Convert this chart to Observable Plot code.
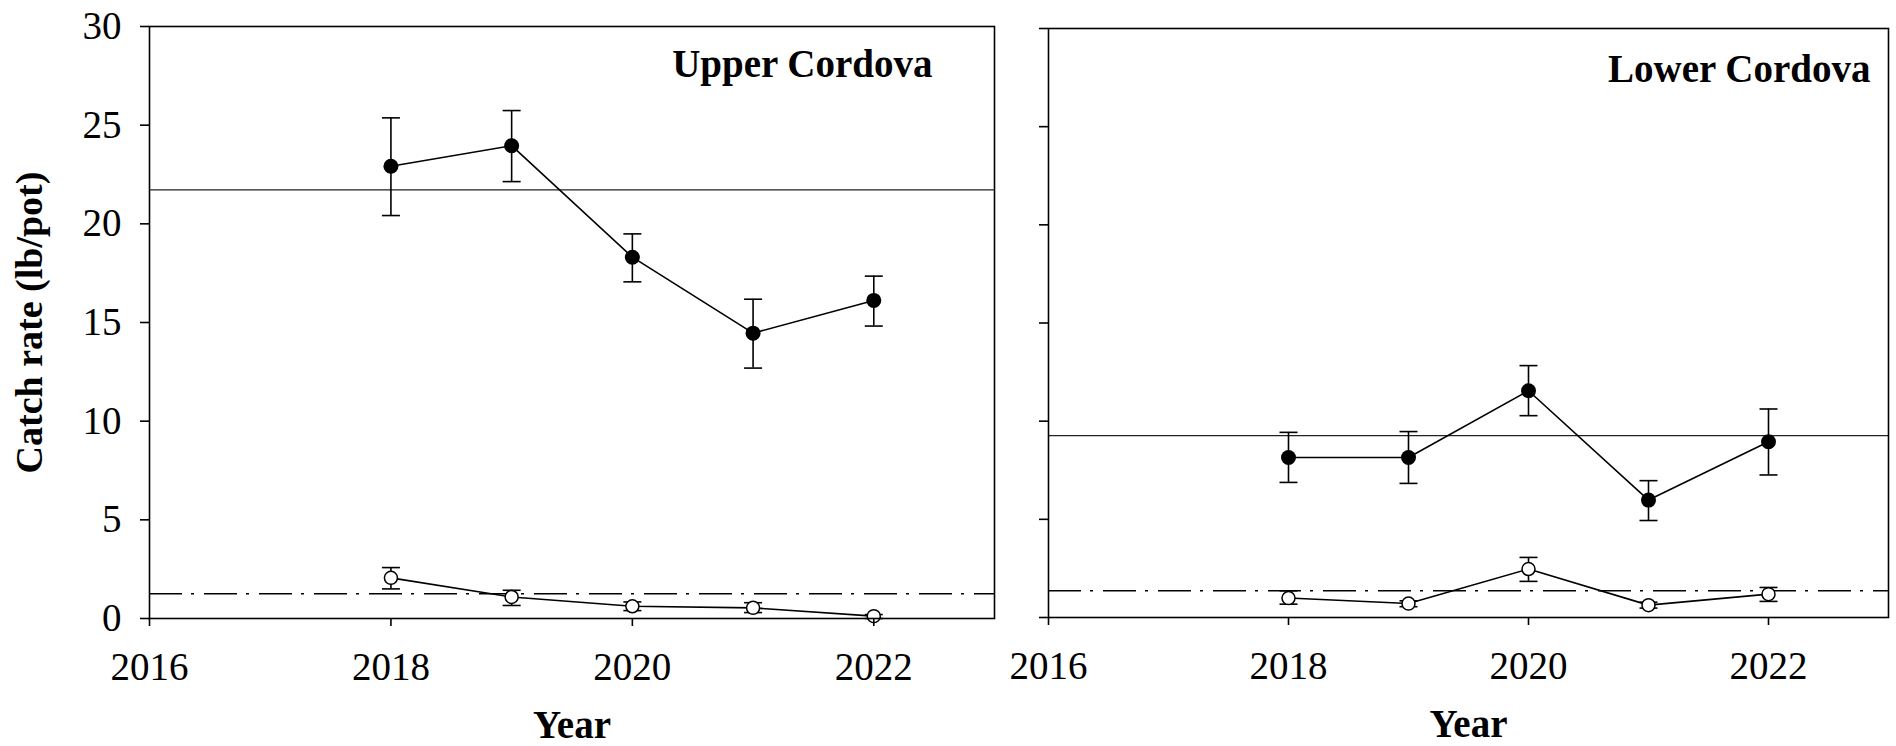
<!DOCTYPE html>
<html><head><meta charset="utf-8">
<script src="https://cdn.jsdelivr.net/npm/d3@7"></script>
<script src="https://cdn.jsdelivr.net/npm/@observablehq/plot@0.6"></script>
<style>
html,body{margin:0;padding:0;background:#fff;}
#wrap{position:relative;width:1896px;height:746px;overflow:hidden;background:#fff;}
#wrap svg{position:absolute;top:0;}
</style></head><body><div id="wrap"></div>
<script>
// ---- data ----
const years = [2018, 2019, 2020, 2021, 2022];
const xTicks = [2016, 2018, 2020, 2022];
const yTicks = [0, 5, 10, 15, 20, 25, 30];
const panelTitles = ["Upper Cordova", "Lower Cordova"];
const xTitle = "Year";
const yTitle = "Catch rate (lb/pot)";

// Upper Cordova
const upperLarge   = [22.92, 23.96, 18.31, 14.46, 16.12];
const upperLargeLo = [20.42, 22.14, 17.06, 12.69, 14.82];
const upperLargeHi = [25.37, 25.74, 19.49, 16.18, 17.35];
const upperSmall   = [2.06, 1.09, 0.62, 0.54, 0.12];
const upperSmallLo = [1.50, 0.66, 0.40, 0.30, 0.00];
const upperSmallHi = [2.58, 1.43, 0.84, 0.80, 0.20];
const upperLargeMean = 21.72;
const upperSmallMean = 1.25;

// Lower Cordova
const lowerLarge   = [8.15, 8.15, 11.55, 5.98, 8.95];
const lowerLargeLo = [6.88, 6.83, 10.28, 4.94, 7.26];
const lowerLargeHi = [9.43, 9.47, 12.83, 6.97, 10.62];
const lowerSmall   = [0.99, 0.71, 2.47, 0.63, 1.19];
const lowerSmallLo = [0.68, 0.55, 1.84, 0.48, 0.82];
const lowerSmallHi = [1.36, 0.85, 3.06, 0.78, 1.53];
const lowerLargeMean = 9.26;
const lowerSmallMean = 1.36;

// ---- helpers ----
const rows = (v, lo, hi) => years.map((year, i) => ({year, value: v[i], lo: lo[i], hi: hi[i]}));
const capSymbol = {
  draw(ctx, size) { const r = Math.sqrt(size / Math.PI); ctx.moveTo(-r, 0); ctx.lineTo(r, 0); }
};
const FONT = "'Liberation Serif','Times New Roman',Times,serif";

function seriesMarks(data, filled) {
  return [
    Plot.line(data, {x: "year", y: "value", stroke: "black", strokeWidth: 1.6}),
    Plot.ruleX(data, {x: "year", y1: "lo", y2: "hi", stroke: "black", strokeWidth: 1.6}),
    Plot.dot(data, {x: "year", y: "lo", symbol: capSymbol, r: 9, stroke: "black", strokeWidth: 1.6, fill: "none"}),
    Plot.dot(data, {x: "year", y: "hi", symbol: capSymbol, r: 9, stroke: "black", strokeWidth: 1.6, fill: "none"}),
    Plot.dot(data, filled
      ? {x: "year", y: "value", r: 7.5, fill: "black", stroke: "none"}
      : {x: "year", y: "value", r: 6.5, fill: "white", stroke: "black", strokeWidth: 1.5})
  ];
}

function panel(cfg) {
  return Plot.plot({
    width: cfg.width, height: 746,
    marginLeft: cfg.ml, marginRight: cfg.mr, marginTop: cfg.mt, marginBottom: cfg.mb,
    x: {domain: [2016, 2023]},
    y: {domain: [0, 30]},
    style: {fontFamily: FONT, fontSize: "39px", color: "black", background: "transparent", overflow: "visible"},
    marks: [
      Plot.ruleY([cfg.largeMean], {stroke: "#222", strokeWidth: 1.2}),
      Plot.ruleY([cfg.smallMean], {stroke: "black", strokeWidth: 1.5, strokeDasharray: "33,9,3,10"}),
      ...seriesMarks(cfg.small, false),
      ...seriesMarks(cfg.large, true),
      Plot.frame({stroke: "black", strokeWidth: 1.6}),
      Plot.axisX({ticks: xTicks, tickFormat: d => String(d), tickSize: 8, tickPadding: 26, label: null, strokeWidth: 1.6}),
      Plot.axisY({ticks: yTicks, tickSize: 9, tickPadding: 19, label: null, strokeWidth: 1.6,
                  tickFormat: cfg.yLabels ? (d => String(d)) : (() => "")}),
      Plot.text([cfg.title], {text: d => d, frameAnchor: "top-right", textAnchor: "end", lineAnchor: "middle",
                  dx: cfg.titleDx, dy: cfg.titleDy, fontSize: 39, fontWeight: "bold"}),
      Plot.text([xTitle], {text: d => d, frameAnchor: "bottom", textAnchor: "middle", lineAnchor: "middle",
                  dy: 107.5, fontSize: 39, fontWeight: "bold"}),
      ...(cfg.yLabels ? [Plot.text([yTitle], {text: d => d, frameAnchor: "left", textAnchor: "middle", rotate: -90,
                  lineAnchor: "middle", dx: -120, fontSize: 38, fontWeight: "bold"})] : [])
    ]
  });
}

const wrap = document.getElementById("wrap");
const left = panel({
  width: 1000, ml: 149, mr: 6, mt: 26, mb: 128,
  large: rows(upperLarge, upperLargeLo, upperLargeHi),
  small: rows(upperSmall, upperSmallLo, upperSmallHi),
  largeMean: upperLargeMean, smallMean: upperSmallMean,
  title: panelTitles[0], titleDx: -62, titleDy: 38.5, yLabels: true
});
left.style.left = "0px";
wrap.appendChild(left);

const right = panel({
  width: 896, ml: 48, mr: 8, mt: 28, mb: 129,
  large: rows(lowerLarge, lowerLargeLo, lowerLargeHi),
  small: rows(lowerSmall, lowerSmallLo, lowerSmallHi),
  largeMean: lowerLargeMean, smallMean: lowerSmallMean,
  title: panelTitles[1], titleDx: -18, titleDy: 41.5, yLabels: false
});
right.style.left = "1000px";
wrap.appendChild(right);
</script>
</body></html>
